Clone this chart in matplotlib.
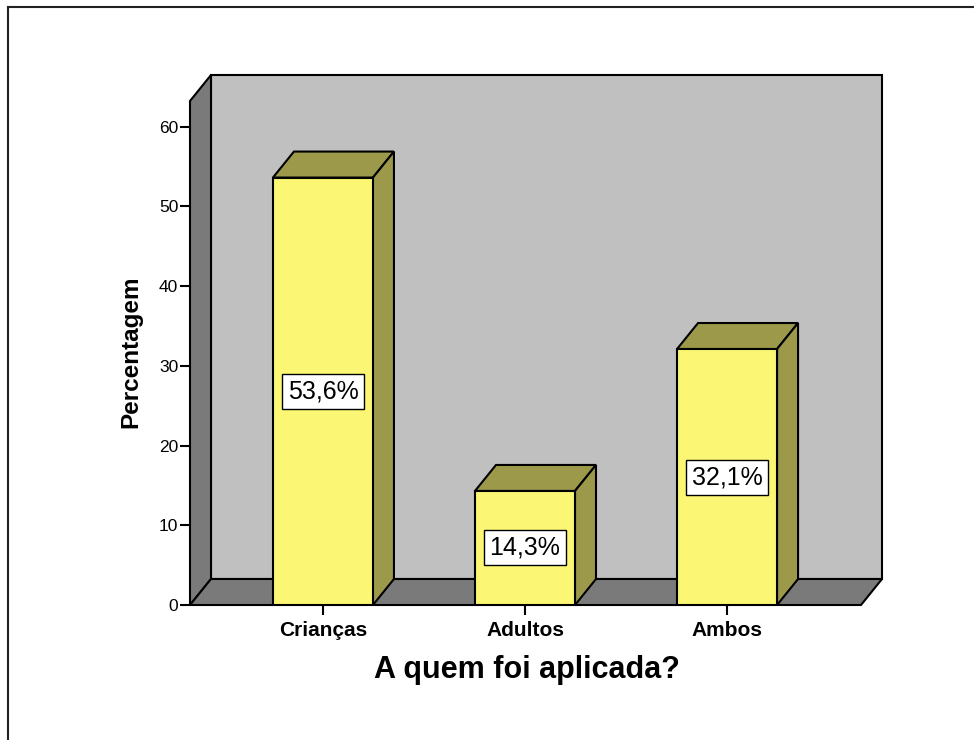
import matplotlib
matplotlib.use("Agg")
import matplotlib.pyplot as plt
from matplotlib.patches import Polygon
from matplotlib.lines import Line2D

plt.rcParams['font.family'] = ['Liberation Sans', 'DejaVu Sans']

# data
categories = ['Crianças', 'Adultos', 'Ambos']
percentages = [53.6, 14.3, 32.1]
value_labels = ['53,6%', '14,3%', '32,1%']
y_ticks = [0, 10, 20, 30, 40, 50, 60]

# colours
wall_back = '#C0C0C0'
wall_side = '#7A7A7A'
bar_front = '#FBF774'
bar_shade = '#9C9A4A'

fig = plt.figure(figsize=(9.74, 7.40), dpi=100)
ax = fig.add_axes([190 / 974, 1 - 605 / 740, 671 / 974, 504 / 740])

xl, xr = -0.658, 2.663
ytop = 63.2
ax.set_xlim(xl, xr)
ax.set_ylim(0, ytop)

# depth of the 3D effect, in data units (~21px right, ~26px up)
dx = 21 / (671 / (xr - xl))
dy = 26 / (504 / ytop)

def face(pts, color, z):
    ax.add_patch(Polygon(pts, closed=True, facecolor=color, edgecolor='black',
                         linewidth=1.5, zorder=z, clip_on=False))

# walls and floor
face([(xl + dx, dy), (xr + dx, dy), (xr + dx, ytop + dy), (xl + dx, ytop + dy)], wall_back, 1)
face([(xl, 0), (xl, ytop), (xl + dx, ytop + dy), (xl + dx, dy)], wall_side, 2)
face([(xl, 0), (xr, 0), (xr + dx, dy), (xl + dx, dy)], wall_side, 2)

# bars
w = 0.495
xs = list(range(len(categories)))
ax.bar(xs, percentages, width=w, color=bar_front, edgecolor='black',
       linewidth=1.5, zorder=4)
for x, v, lab in zip(xs, percentages, value_labels):
    face([(x - w / 2, v), (x + w / 2, v), (x + w / 2 + dx, v + dy), (x - w / 2 + dx, v + dy)],
         bar_shade, 3)
    face([(x + w / 2, 0), (x + w / 2 + dx, dy), (x + w / 2 + dx, v + dy), (x + w / 2, v)],
         bar_shade, 3)
    ax.text(x, v / 2, lab, ha='center', va='center', fontsize=18, zorder=6,
            bbox=dict(boxstyle='square,pad=0.22', facecolor='white',
                      edgecolor='black', linewidth=1))

for s in ax.spines.values():
    s.set_visible(False)
ax.set_facecolor('none')

ax.set_yticks(y_ticks)
ax.set_xticks(xs)
ax.set_xticklabels(categories, fontweight='bold', fontsize=15)
ax.tick_params(axis='y', length=7.5, width=1.5, pad=1, labelsize=12.5)
ax.tick_params(axis='x', length=7.5, width=1.5, pad=4)

ax.set_xlabel('A quem foi aplicada?', fontsize=22, fontweight='bold', va='center')
ax.xaxis.set_label_coords(0.502, -0.129)
ax.set_ylabel('Percentagem', fontsize=17.5, fontweight='bold', va='center')
ax.yaxis.set_label_coords(-0.088, 0.502)

# outer frame (left and top edges)
fig.add_artist(Line2D([8 / 974, 8 / 974], [0, 1 - 7 / 740], color='#222222', linewidth=1.5))
fig.add_artist(Line2D([8 / 974, 1], [1 - 7 / 740, 1 - 7 / 740], color='#222222', linewidth=1.5))

fig.savefig('out.png', dpi=100)
